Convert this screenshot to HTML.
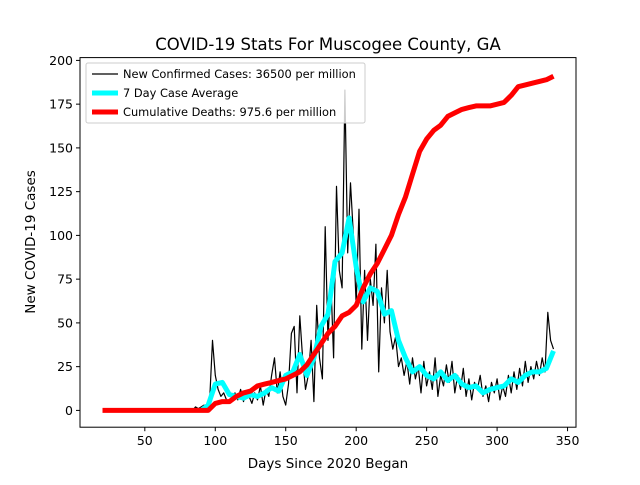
<!DOCTYPE html>
<html><head><meta charset="utf-8"><style>
body{margin:0;background:#fff}
svg text{font-family:"DejaVu Sans","Liberation Sans",sans-serif}
</style></head><body>
<svg id="chart" width="640" height="480" xmlns="http://www.w3.org/2000/svg">
<rect width="640" height="480" fill="#fff"/>
<text x="328" y="50" font-size="16.5" text-anchor="middle">COVID-19 Stats For Muscogee County, GA</text>
<g id="plot"></g>
<g id="axes"></g>
<text x="328" y="468" font-size="13.5" text-anchor="middle">Days Since 2020 Began</text>
<text transform="translate(35,242) rotate(-90)" font-size="13.5" text-anchor="middle">New COVID-19 Cases</text>
<g>
<rect x="86" y="63" width="279" height="60" fill="#fff" fill-opacity="0.8" stroke="#ccc" rx="2"/>
<line x1="92" y1="74" x2="118" y2="74" stroke="#000" stroke-width="1.2"/>
<text x="123" y="78" font-size="11.4">New Confirmed Cases: 36500 per million</text>
<line x1="92" y1="93" x2="118" y2="93" stroke="#00ffff" stroke-width="5"/>
<text x="123" y="97" font-size="11.4">7 Day Case Average</text>
<line x1="92" y1="112" x2="118" y2="112" stroke="#ff0000" stroke-width="5"/>
<text x="123" y="116" font-size="11.4">Cumulative Deaths: 975.6 per million</text>
</g>
</svg>
<script>
const caseDays=[80,82,84,86,88,90,92,94,96,98,100,102,104,106,108,110,112,114,116,118,120,122,124,126,128,130,132,134,136,138,140,142,144,146,148,150,152,154,156,158,160,162,164,166,168,170,172,174,176,178,180,182,184,186,188,190,192,194,196,198,200,202,204,206,208,210,212,214,216,218,220,222,224,226,228,230,232,234,236,238,240,242,244,246,248,250,252,254,256,258,260,262,264,266,268,270,272,274,276,278,280,282,284,286,288,290,292,294,296,298,300,302,304,306,308,310,312,314,316,318,320,322,324,326,328,330,332,334,336,338,340];
const caseValues=[0,1,0,2,1,2,3,2,5,40,20,12,8,10,6,5,8,10,6,12,5,10,8,4,10,6,14,3,12,8,20,30,10,22,8,3,15,44,48,10,54,30,12,20,40,5,60,30,18,105,40,75,30,128,80,70,183,90,130,100,60,115,35,80,40,75,60,95,22,70,50,80,45,35,42,25,30,20,28,15,30,18,25,10,28,14,22,12,30,8,20,14,26,16,28,10,20,12,24,8,18,6,16,12,20,8,14,5,16,10,18,6,14,8,20,10,22,12,24,14,28,16,25,18,28,20,30,22,56,40,35];
const avgDays=[90,95,100,105,110,115,120,125,130,135,140,145,150,155,160,165,170,175,180,185,190,195,200,205,210,215,220,225,230,235,240,245,250,255,260,265,270,275,280,285,290,295,300,305,310,315,320,325,330,335,340];
const avgValues=[0,3,15,16,9,8,7,9,8,10,13,11,20,22,32,20,30,48,55,85,90,110,82,62,70,68,55,57,40,30,22,25,20,18,22,17,20,15,13,14,10,12,13,14,18,16,20,22,22,24,34];
const deathDays=[20,30,40,50,60,70,80,90,95,100,105,110,115,120,125,130,135,140,145,150,155,160,165,170,175,180,185,190,195,200,205,210,215,220,225,230,235,240,245,250,255,260,265,270,275,280,285,290,295,300,305,310,315,320,325,330,335,340];
const deathValues=[0,0,0,0,0,0,0,0,0,4,5,5,8,10,11,14,15,16,17,18,20,22,26,32,38,44,48,54,56,60,70,78,84,92,100,112,122,135,148,155,160,163,168,170,172,173,174,174,174,175,176,180,185,186,187,188,189,191];
const xTicks=[50,100,150,200,250,300,350];
const yTicks=[0,25,50,75,100,125,150,175,200];

const L=80,R=576,T=57.6,B=427.2,xmin=4,xmax=356,ymin=-9.6,ymax=201.6;
const sx=d=>L+(d-xmin)/(xmax-xmin)*(R-L);
const sy=v=>B-(v-ymin)/(ymax-ymin)*(B-T);
const NS='http://www.w3.org/2000/svg';
const plot=document.getElementById('plot'),axes=document.getElementById('axes');
function line(xs,ys,color,w,name){
  const p=document.createElementNS(NS,'polyline');
  p.setAttribute('points',xs.map((d,i)=>sx(d).toFixed(1)+','+sy(ys[i]).toFixed(1)).join(' '));
  p.setAttribute('fill','none');p.setAttribute('stroke',color);p.setAttribute('stroke-width',w);
  p.setAttribute('stroke-linejoin','round');
  
  
  plot.appendChild(p);
}
line(caseDays,caseValues,'#000',1.2,'new-cases-line');
line(avgDays,avgValues,'#00ffff',5,'seven-day-average-line');
line(deathDays,deathValues,'#ff0000',5,'cumulative-deaths-line');
const frame=document.createElementNS(NS,'rect');
frame.setAttribute('x',L);frame.setAttribute('y',T);frame.setAttribute('width',R-L);frame.setAttribute('height',B-T);
frame.setAttribute('fill','none');frame.setAttribute('stroke','#000');frame.setAttribute('stroke-width','1');


axes.appendChild(frame);
xTicks.forEach(t=>{
  const x=sx(t);
  const l=document.createElementNS(NS,'line');
  l.setAttribute('x1',x);l.setAttribute('x2',x);l.setAttribute('y1',B);l.setAttribute('y2',B+4);l.setAttribute('stroke','#000');
  
  
  axes.appendChild(l);
  const tx=document.createElementNS(NS,'text');
  tx.setAttribute('x',x);tx.setAttribute('y',B+18);tx.setAttribute('font-size','12.5');tx.setAttribute('text-anchor','middle');
  tx.textContent=t;
  
  
  axes.appendChild(tx);
});
yTicks.forEach(t=>{
  const y=sy(t);
  const l=document.createElementNS(NS,'line');
  l.setAttribute('x1',L-4);l.setAttribute('x2',L);l.setAttribute('y1',y);l.setAttribute('y2',y);l.setAttribute('stroke','#000');
  
  
  axes.appendChild(l);
  const tx=document.createElementNS(NS,'text');
  tx.setAttribute('x',L-7);tx.setAttribute('y',y+4.5);tx.setAttribute('font-size','12.5');tx.setAttribute('text-anchor','end');
  tx.textContent=t;
  
  
  axes.appendChild(tx);
});
</script>
</body></html>
